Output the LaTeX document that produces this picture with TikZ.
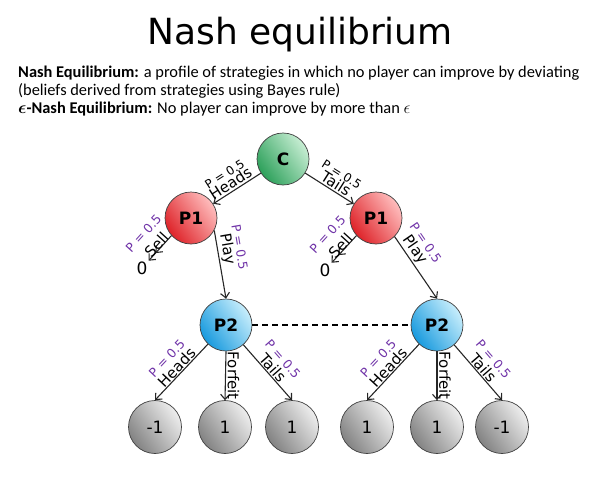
\documentclass[tikz,border=0pt]{standalone}
\usepackage{amsmath,amssymb}
\usepackage{fontspec}
\setmainfont{Carlito}
\newfontfamily\dvfont{DejaVu Sans}
\usepackage{xcolor}
\usepackage{tikz}
\usetikzlibrary{arrows.meta,positioning,calc}

\definecolor{chanceD}{RGB}{44,160,90}
\definecolor{chanceL}{RGB}{200,238,212}
\definecolor{pOneD}{RGB}{222,34,40}
\definecolor{pOneL}{RGB}{255,190,190}
\definecolor{pTwoD}{RGB}{24,154,222}
\definecolor{pTwoL}{RGB}{200,238,252}
\definecolor{leafD}{RGB}{130,130,130}
\definecolor{leafL}{RGB}{238,238,238}
\definecolor{probcol}{RGB}{112,52,168}

\begin{document}
\begin{tikzpicture}[x=1pt, y=-1pt,
  player/.style={circle, draw=black!75, line width=0.7pt, minimum size=52pt, inner sep=0pt,
    font=\dvfont\fontsize{17}{17}\selectfont\bfseries, left color=#1D, right color=#1L, shading angle=125},
  leaf/.style={circle, draw=black!75, line width=0.7pt, minimum size=53pt, inner sep=0pt,
    font=\dvfont\fontsize{17}{17}\selectfont, left color=leafD, right color=leafL, shading angle=125},
  move/.style={draw=black!85, line width=1.1pt, -{Straight Barb[length=5pt, width=9pt]}},
  quit/.style={draw=black!85, line width=1.1pt, -{Straight Barb[length=5pt, width=9pt, sep=4pt]Straight Barb[length=5pt, width=9pt]}},
  act/.style={font=\dvfont\fontsize{15}{15}\selectfont, inner sep=1.5pt},
  prob/.style={font=\dvfont\fontsize{12.5}{12.5}\selectfont, text=probcol, inner sep=1pt},
  payoff/.style={font=\dvfont\fontsize{17}{17}\selectfont, inner sep=1pt}
]
\useasboundingbox (0,0) rectangle (596,495);

% Title and definitions
\node[font=\dvfont\fontsize{36}{36}\selectfont] (title) at (300,35) {Nash equilibrium};
\node[anchor=north west, align=left, font=\fontsize{16.4}{17.8}\selectfont, inner sep=0pt] (defs) at (18,66)
  {\textbf{Nash Equilibrium:} a profile of strategies in which no player can improve by deviating\\
   (beliefs derived from strategies using Bayes rule)\\
   $\boldsymbol{\epsilon}$\textbf{-Nash Equilibrium:} No player can improve by more than $\epsilon$};

% Chance and player 1
\node[player=chance] (C) at (283,159) {C};
\node[player=pOne] (P1a) at (191,218) {P1};
\node[player=pOne] (P1b) at (376,218) {P1};
\node[payoff] (zeroa) at (142,268) {0};
\node[payoff] (zerob) at (325,270) {0};

% Player 2 and payoffs
\node[player=pTwo] (P2a) at (226,325) {P2};
\node[player=pTwo] (P2b) at (437,325) {P2};
\node[leaf] (La) at (155,427) {-1};
\node[leaf] (Lb) at (225,427) {1};
\node[leaf] (Lc) at (292,427) {1};
\node[leaf] (Ld) at (367,427) {1};
\node[leaf] (Le) at (437,427) {1};
\node[leaf] (Lf) at (502,427) {-1};

% Coin toss
\draw[move] (C) -- (P1a) node[pos=0.55, sloped, above, act, align=center, yshift=0pt]
  {{\fontsize{12}{12}\selectfont P = 0.5}\\[-3pt]Heads};
\draw[move] (C) -- (P1b) node[pos=0.55, sloped, above, act, align=center, yshift=0pt]
  {{\fontsize{12}{12}\selectfont P = 0.5}\\[-3pt]Tails};

% Sell or play
\draw[quit] (P1a.-138) -- (zeroa)
  node[pos=0.5, sloped, above, act, yshift=-3pt] {Sell}
  node[pos=0.5, sloped, above, prob, yshift=16pt] {P = 0.5};
\draw[move] (P1a.-28) -- (P2a.north)
  node[pos=0.3, sloped, above, act] {Play}
  node[pos=0.3, sloped, above, prob, yshift=16pt] {P = 0.5};
\draw[quit] (P1b.-138) -- (zerob)
  node[pos=0.5, sloped, above, act, yshift=-3pt] {Sell}
  node[pos=0.5, sloped, above, prob, yshift=16pt] {P = 0.5};
\draw[move] (P1b.-45) -- (P2b.north)
  node[pos=0.3, sloped, above, act] {Play}
  node[pos=0.3, sloped, above, prob, yshift=16pt] {P = 0.5};

% Information set
\draw[dashed, line width=1.1pt, dash pattern=on 6pt off 4pt] (P2a) -- (P2b);

% Player 2 moves
\foreach \src/\hd/\ff/\tl in {P2a/La/Lb/Lc, P2b/Ld/Le/Lf}{
  \draw[move] (\src) -- (\hd.north)
    node[midway, sloped, above, act, yshift=-1pt] {Heads}
    node[midway, sloped, above, prob, yshift=14pt] {P = 0.5};
  \draw[move] (\src.south) -- (\ff.north)
    node[midway, rotate=-90, anchor=south, act] {Forfeit};
  \draw[move] (\src) -- (\tl.north)
    node[midway, sloped, above, act, yshift=-1pt] {Tails}
    node[midway, sloped, above, prob, yshift=14pt] {P = 0.5};
}

\end{tikzpicture}
\end{document}
